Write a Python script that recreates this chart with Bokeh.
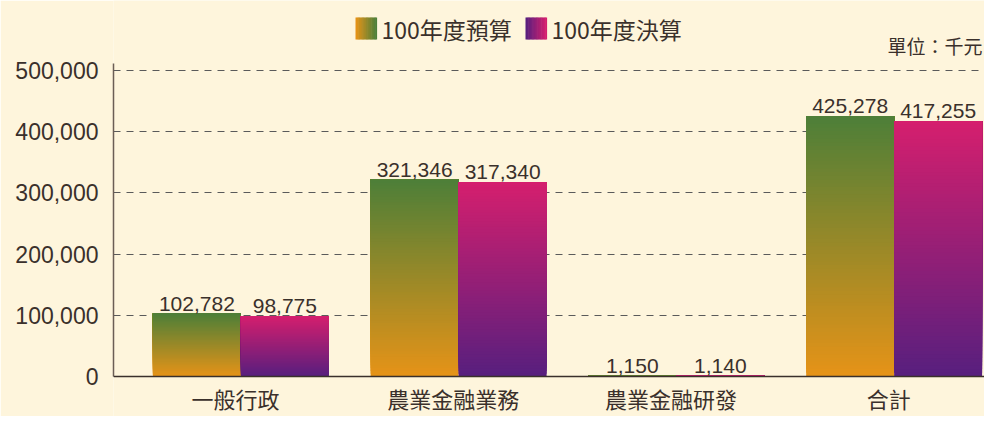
from bokeh.plotting import figure
from bokeh.models import (FactorRange, ColumnDataSource, LabelSet, Label, Span,
                          BoxAnnotation, NumeralTickFormatter, FixedTicker)
from bokeh.transform import dodge
from bokeh.core.properties import value
from bokeh.embed import file_html
from bokeh.resources import INLINE

# ---- data ----
categories = ["一般行政", "農業金融業務", "農業金融研發", "合計"]
budget = [102782, 321346, 1150, 425278]
actual = [98775, 317340, 1140, 417255]
series_names = ["100年度預算", "100年度決算"]
y_ticks = [0, 100000, 200000, 300000, 400000, 500000]
unit_text = "單位：千元"

# ---- style ----
BG = "#FEF5DC"
TEXT = "#3A302B"
BUDGET_C = ((229, 147, 24), (78, 127, 56))   # bottom, top
ACTUAL_C = ((88, 31, 126), (212, 31, 110))   # bottom, top
NUM_FONT = "Liberation Sans"
CJK_FONT = "Noto Sans CJK TC"
BAR_SHIFT = 0.085
LABEL_SHIFT = 0.06
HALF = 0.202
N = 70


def lerp(c0, c1, t):
    return "#%02x%02x%02x" % tuple(int(round(a + (b - a) * t)) for a, b in zip(c0, c1))


p = figure(x_range=FactorRange(*categories, range_padding=0),
           y_range=(-65360, 614380), width=984, height=416,
           output_backend="svg", toolbar_location=None, x_axis_location=None,
           min_border_left=113, min_border_right=0, min_border_top=0,
           min_border_bottom=0,
           background_fill_color=BG, border_fill_color=BG,
           outline_line_color=None)

# grid
p.xgrid.grid_line_color = None
p.ygrid.ticker = FixedTicker(ticks=y_ticks)
p.ygrid.grid_line_color = "#5a5a5a"
p.ygrid.grid_line_dash = "7 6"
p.ygrid.grid_line_width = 1

# gradient bars: overlapping slices from each value
for vals, cols, off in ((budget, BUDGET_C, -HALF + BAR_SHIFT), (actual, ACTUAL_C, HALF + BAR_SHIFT)):
    xs, bots, tops, colors = [], [], [], []
    for c, v in zip(categories, vals):
        for i in range(N):
            xs.append(c)
            bots.append(v * i / N)
            tops.append(v)
            colors.append(lerp(cols[0], cols[1], i / (N - 1)))
    src = ColumnDataSource(dict(x=xs, bottom=bots, top=tops, color=colors))
    p.vbar(x=dodge("x", off, range=p.x_range), width=2 * HALF, bottom="bottom",
           top="top", fill_color="color", line_color=None, source=src)

    lsrc = ColumnDataSource(dict(x=categories, y=vals, t=[f"{v:,}" for v in vals]))
    p.add_layout(LabelSet(x=dodge("x", off, range=p.x_range), y="y", text="t",
                          source=lsrc, text_align="center", text_baseline="bottom",
                          y_offset=3, text_font=value(NUM_FONT),
                          text_font_size="21px", text_color=TEXT))

# x axis line at zero and category labels
p.add_layout(Span(location=0, dimension="width", line_color="#3a302b", line_width=1.5))
csrc = ColumnDataSource(dict(x=categories, y=[0] * len(categories)))
p.add_layout(LabelSet(x=dodge("x", LABEL_SHIFT, range=p.x_range), y="y", text="x",
                      source=csrc, text_align="center", text_baseline="middle",
                      y_offset=-22, text_font=value(CJK_FONT),
                      text_font_size="22px", text_color=TEXT))

# y axis
p.yaxis.ticker = FixedTicker(ticks=y_ticks)
p.yaxis.bounds = (0, 511400)
p.yaxis.formatter = NumeralTickFormatter(format="0,0")
p.yaxis.major_tick_line_color = None
p.yaxis.minor_tick_line_color = None
p.yaxis.major_tick_out = 0
p.yaxis.major_tick_in = 0
p.yaxis.minor_tick_out = 0
p.yaxis.major_label_standoff = 15
p.yaxis.major_label_text_font = NUM_FONT
p.yaxis.major_label_text_font_size = "23px"
p.yaxis.major_label_text_color = TEXT
p.yaxis.axis_line_color = "#6b5e55"
p.yaxis.axis_line_width = 1.5


# custom legend with gradient swatches (frame-relative screen units)
def swatch(x0, x1, y0, y1, cols, steps=16):
    w = (x1 - x0) / steps
    for i in range(steps):
        p.add_layout(BoxAnnotation(left=x0 + i * w, right=x0 + (i + 1) * w + 0.6,
                                   bottom=y0, top=y1,
                                   left_units="screen", right_units="screen",
                                   bottom_units="screen", top_units="screen",
                                   fill_color=lerp(cols[0], cols[1], i / (steps - 1)),
                                   fill_alpha=1, line_color=None))


swatch(242, 263, 377, 399, BUDGET_C)
swatch(412, 433, 377, 399, ACTUAL_C)
for x, t in ((268, series_names[0]), (438, series_names[1])):
    p.add_layout(Label(x=x, y=388, x_units="screen", y_units="screen", text=t,
                       text_align="left", text_baseline="middle",
                       text_font=CJK_FONT, text_font_size="23px",
                       text_color=TEXT))

p.add_layout(Label(x=869, y=371, x_units="screen", y_units="screen", text=unit_text,
                   text_align="right", text_baseline="middle",
                   text_font=CJK_FONT, text_font_size="19px",
                   text_color=TEXT))

open("out.html", "w").write(file_html(p, INLINE))
